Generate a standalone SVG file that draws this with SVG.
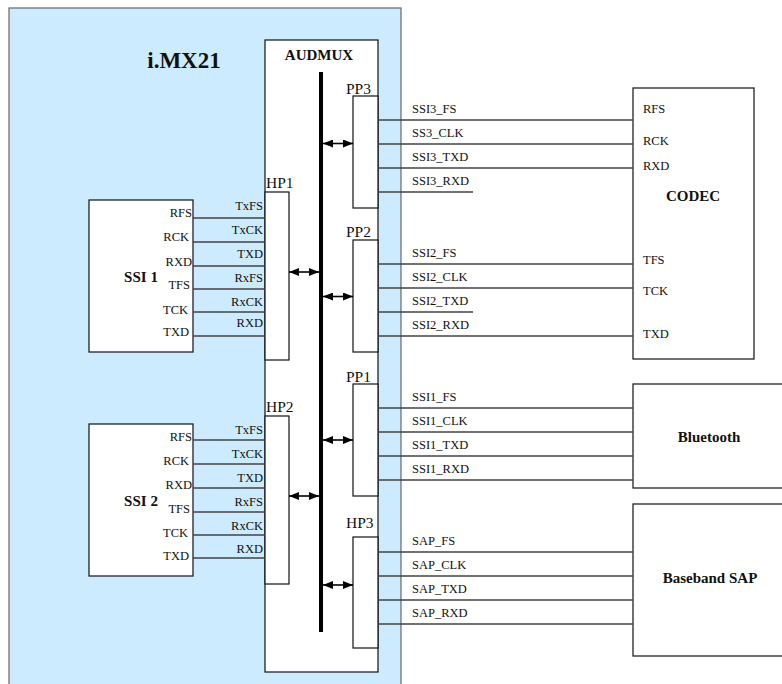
<svg xmlns="http://www.w3.org/2000/svg" width="782" height="684" viewBox="0 0 782 684" font-family="'Liberation Serif', 'Times New Roman', Times, serif">
<style>
text{font-family:'Liberation Serif','Times New Roman',Times,serif;fill:#111}
.s{font-size:12.5px}
.p{font-size:15.5px}
.b{font-weight:bold;font-size:15px}
.box{fill:#fff;stroke:#111;stroke-width:1.2}
.sig{stroke:#444;stroke-width:1.3;fill:none}
.arr{stroke:#000;stroke-width:1.6;fill:none;marker-start:url(#ah);marker-end:url(#ah)}
</style>
<defs>
<marker id="ah" viewBox="0 0 10 8" refX="10" refY="4" markerWidth="10" markerHeight="8" markerUnits="userSpaceOnUse" orient="auto-start-reverse"><path d="M0,0L10,4L0,8z" fill="#000"/></marker>
</defs>
<rect width="782" height="684" fill="#fff"/>
<g id="imx21">
<rect x="9" y="8" width="392" height="690" fill="#CCEBFE" stroke="#666" stroke-width="1.2"/>
<text x="184" y="68" text-anchor="middle" font-weight="bold" font-size="23">i.MX21</text>
</g>
<g id="audmux">
<rect class="box" x="265" y="40" width="113" height="632"/>
<text class="b" x="319" y="60" text-anchor="middle">AUDMUX</text>
<rect x="319" y="72" width="4" height="560" fill="#000"/>
</g>
<g id="hp1">
<rect class="box" x="265" y="192" width="24" height="168"/>
<text class="p" x="266" y="188">HP1</text>
</g>
<g id="hp2">
<rect class="box" x="265" y="416" width="24" height="168"/>
<text class="p" x="266" y="412">HP2</text>
</g>
<g id="pp3">
<rect class="box" x="353" y="96" width="25" height="112"/>
<text class="p" x="346" y="94">PP3</text>
</g>
<g id="pp2">
<rect class="box" x="353" y="240" width="25" height="112"/>
<text class="p" x="346" y="237">PP2</text>
</g>
<g id="pp1">
<rect class="box" x="353" y="384" width="25" height="112"/>
<text class="p" x="346" y="382">PP1</text>
</g>
<g id="hp3">
<rect class="box" x="353" y="537" width="25" height="111"/>
<text class="p" x="346" y="528">HP3</text>
</g>
<g id="ssi1">
<rect class="box" x="89" y="200" width="104" height="152"/>
<text class="b" x="141" y="282" text-anchor="middle">SSI 1</text>
<g class="s" text-anchor="end">
<text x="192" y="217">RFS</text>
<text x="189" y="241">RCK</text>
<text x="192" y="266">RXD</text>
<text x="190" y="289">TFS</text>
<text x="188" y="314">TCK</text>
<text x="189" y="336">TXD</text>
</g>
</g>
<g id="ssi2">
<rect class="box" x="89" y="424" width="104" height="152"/>
<text class="b" x="141" y="506" text-anchor="middle">SSI 2</text>
<g class="s" text-anchor="end">
<text x="192" y="441">RFS</text>
<text x="189" y="465">RCK</text>
<text x="192" y="489">RXD</text>
<text x="190" y="513">TFS</text>
<text x="188" y="537">TCK</text>
<text x="189" y="560">TXD</text>
</g>
</g>
<g id="codec">
<rect class="box" x="633" y="88" width="121" height="271"/>
<text class="b" x="693" y="201" text-anchor="middle">CODEC</text>
<g class="s">
<text x="643" y="113">RFS</text>
<text x="643" y="145">RCK</text>
<text x="643" y="170">RXD</text>
<text x="643" y="264">TFS</text>
<text x="643" y="295">TCK</text>
<text x="643" y="338">TXD</text>
</g>
</g>
<g id="bluetooth">
<rect class="box" x="633" y="384" width="155" height="104"/>
<text class="b" x="709" y="442" text-anchor="middle">Bluetooth</text>
</g>
<g id="baseband">
<rect class="box" x="633" y="504" width="155" height="152"/>
<text class="b" x="710" y="583" text-anchor="middle">Baseband SAP</text>
</g>
<g id="connectors">
<g class="sig">
<path d="M193,218H265M193,242H265M193,266H265M193,289H265M193,312H265M193,336H265"/>
<path d="M193,440H265M193,464H265M193,488H265M193,512H265M193,535H265M193,558H265"/>
<path d="M378,120H633M378,144H633M378,168H633M378,192H473"/>
<path d="M378,264H633M378,288H633M378,312H473M378,336H633"/>
<path d="M378,408H633M378,432H633M378,456H633M378,480H633"/>
<path d="M378,552H633M378,576H633M378,600H633M378,624H633"/>
</g>
<line class="arr" x1="289" y1="272" x2="319" y2="272"/>
<line class="arr" x1="289" y1="496" x2="319" y2="496"/>
<line class="arr" x1="323" y1="143.5" x2="353" y2="143.5"/>
<line class="arr" x1="323" y1="296.5" x2="353" y2="296.5"/>
<line class="arr" x1="323" y1="440" x2="353" y2="440"/>
<line class="arr" x1="323" y1="585" x2="353" y2="585"/>
<g class="s" text-anchor="end">
<text x="263" y="210">TxFS</text>
<text x="263" y="234">TxCK</text>
<text x="263" y="258">TXD</text>
<text x="263" y="282">RxFS</text>
<text x="263" y="306">RxCK</text>
<text x="263" y="327">RXD</text>
<text x="263" y="434">TxFS</text>
<text x="263" y="458">TxCK</text>
<text x="263" y="482">TXD</text>
<text x="263" y="506">RxFS</text>
<text x="263" y="530">RxCK</text>
<text x="263" y="553">RXD</text>
</g>
<g class="s">
<text x="412" y="113">SSI3_FS</text>
<text x="412" y="137">SS3_CLK</text>
<text x="412" y="161">SSI3_TXD</text>
<text x="412" y="185">SSI3_RXD</text>
<text x="412" y="257">SSI2_FS</text>
<text x="412" y="281">SSI2_CLK</text>
<text x="412" y="305">SSI2_TXD</text>
<text x="412" y="329">SSI2_RXD</text>
<text x="412" y="401">SSI1_FS</text>
<text x="412" y="425">SSI1_CLK</text>
<text x="412" y="449">SSI1_TXD</text>
<text x="412" y="473">SSI1_RXD</text>
<text x="412" y="545">SAP_FS</text>
<text x="412" y="569">SAP_CLK</text>
<text x="412" y="593">SAP_TXD</text>
<text x="412" y="617">SAP_RXD</text>
</g>
</g>
</svg>
